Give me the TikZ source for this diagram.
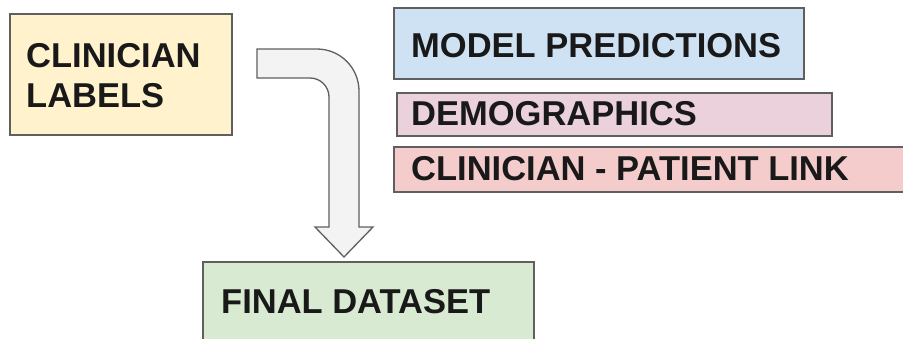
\documentclass[tikz,border=0pt]{standalone}
\usepackage{fontspec}
\setmainfont{Liberation Sans}
\definecolor{bordergray}{HTML}{5F5F5F}
\definecolor{cyellow}{HTML}{FFF2CC}
\definecolor{cblue}{HTML}{CFE2F3}
\definecolor{cmagenta}{HTML}{EAD1DC}
\definecolor{cred}{HTML}{F4CCCC}
\definecolor{cgreen}{HTML}{D9EAD3}
\definecolor{carrow}{HTML}{F3F3F3}
\begin{document}
\begin{tikzpicture}[x=1pt,y=-1pt,
  boxshape/.style={draw=bordergray, line width=1.3pt, rectangle, inner sep=0pt},
  lbl/.style={anchor=base west, inner sep=0pt, font=\fontsize{34.5}{40}\selectfont\bfseries, text=black!90}]
\useasboundingbox (0,0) rectangle (903,338);
\clip (0,0) rectangle (903,338);
% boxes
\draw[boxshape, fill=cyellow] (10,14) rectangle (232,135);
\node[inner sep=0pt] (cl) at (121,74.5) {};
\draw[boxshape, fill=cblue] (394,8) rectangle (804,79);
\node[inner sep=0pt] (mp) at (599,43.5) {};
\draw[boxshape, fill=cmagenta] (397,93) rectangle (832,136);
\node[inner sep=0pt] (dm) at (614.5,114.5) {};
\draw[boxshape, fill=cred] (394,147) rectangle (915,192);
\node[inner sep=0pt] (cp) at (654,169.5) {};
\draw[boxshape, fill=cgreen] (203,262) rectangle (534,350);
\node[inner sep=0pt] (fd) at (368.5,306) {};
% texts
\node[lbl] (t1) at (26,67) {CLINICIAN};
\node[lbl] (t2) at (26,107) {LABELS};
\node[lbl] (t3) at (411,57) {MODEL PREDICTIONS};
\node[lbl] (t4) at (411,125) {DEMOGRAPHICS};
\node[lbl] (t5) at (411,180) {CLINICIAN - PATIENT LINK};
\node[lbl] (t6) at (221,313) {FINAL DATASET};
% bent block arrow
\draw[draw=bordergray, line width=1.3pt, fill=carrow, line join=miter]
  (257,49) -- (317,49) arc[start angle=-90, end angle=0, radius=42]
  -- (359,227) -- (373,227) -- (344,257) -- (315,227) -- (329,227)
  -- (329,97) arc[start angle=0, end angle=-90, radius=19]
  -- (257,78) -- cycle;
\end{tikzpicture}
\end{document}
